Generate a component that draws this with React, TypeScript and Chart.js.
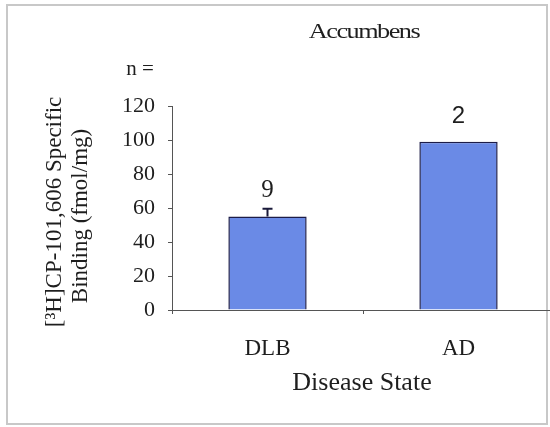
import React, { useEffect, useRef } from "react";
import { Chart, registerables } from "chart.js";

Chart.register(...registerables);

const categories = ["DLB", "AD"];
const meanBinding = [55, 99];
const semBinding = [4.5, 0];
const nLabels = ["9", "2"];
const yTicks = [0, 20, 40, 60, 80, 100, 120];
const chartTitle = "Accumbens";
const yTitleLines = ["[\u00B3H]CP-101,606 Specific", "Binding (fmol/mg)"];
const xTitle = "Disease State";

const SERIF = "'Liberation Serif', 'Times New Roman', serif";
const SANS = "'Liberation Sans', Arial, sans-serif";
const TEXT = "#1e1e1e";

const decorPlugin = {
  id: "decor",
  beforeDraw(chart: any) {
    const ctx = chart.ctx;
    ctx.save();
    ctx.fillStyle = "#ffffff";
    ctx.fillRect(0, 0, chart.width, chart.height);
    ctx.strokeStyle = "#c8c8c8";
    ctx.lineWidth = 2;
    ctx.strokeRect(7, 5, 540, 419);
    ctx.restore();
  },
  afterDraw(chart: any) {
    const ctx = chart.ctx;
    const y = chart.scales.y;
    const meta = chart.getDatasetMeta(0);
    ctx.save();
    ctx.fillStyle = TEXT;
    ctx.textAlign = "center";
    ctx.textBaseline = "middle";
    // title
    ctx.save();
    ctx.translate(364, 32);
    ctx.scale(1.25, 1);
    ctx.font = `21px ${SERIF}`;
    (ctx as any).letterSpacing = "-1.2px";
    ctx.fillText(chartTitle, 0, 0);
    ctx.restore();
    // n =
    ctx.font = `21px ${SERIF}`;
    ctx.fillText("n =", 140, 69);
    // error bars
    ctx.strokeStyle = "#1a1a3a";
    ctx.lineWidth = 2;
    meta.data.forEach((bar: any, i: number) => {
      const e = semBinding[i];
      if (!e) return;
      const top = y.getPixelForValue(meanBinding[i] + e);
      const base = y.getPixelForValue(meanBinding[i]);
      ctx.beginPath();
      ctx.moveTo(bar.x, base);
      ctx.lineTo(bar.x, top);
      ctx.moveTo(bar.x - 5, top);
      ctx.lineTo(bar.x + 5, top);
      ctx.stroke();
    });
    // n labels
    meta.data.forEach((bar: any, i: number) => {
      const top = y.getPixelForValue(meanBinding[i] + semBinding[i]);
      ctx.font = i === 0 ? `25px ${SERIF}` : `24px ${SANS}`;
      ctx.fillText(nLabels[i], bar.x, top - 18 + (i === 1 ? -7 : 0));
    });
    // x title
    ctx.font = `26px ${SERIF}`;
    ctx.fillText(xTitle, 362, 383);
    // y title
    ctx.save();
    ctx.translate(55, 212);
    ctx.rotate(-Math.PI / 2);
    ctx.font = `23px ${SERIF}`;
    ctx.fillText(yTitleLines[0], 0, 0);
    ctx.fillText(yTitleLines[1], -4, 26);
    ctx.restore();
    ctx.restore();
  },
};

export default function App() {
  const ref = useRef<HTMLCanvasElement | null>(null);
  useEffect(() => {
    if (!ref.current) return;
    const chart = new Chart(ref.current, {
      type: "bar",
      data: {
        labels: categories,
        datasets: [
          {
            data: meanBinding,
            backgroundColor: "#6a8ae6",
            borderColor: "#1c1c48",
            borderWidth: 1.5,
            barPercentage: 0.41,
            categoryPercentage: 1,
          },
        ],
      },
      options: {
        responsive: false,
        animation: false,
        devicePixelRatio: 1,
        layout: { padding: { top: 106, left: 0, right: 0, bottom: 0 } },
        plugins: {
          legend: { display: false },
          title: { display: false },
          tooltip: { enabled: false },
        },
        scales: {
          x: {
            afterFit: (s: any) => {
              s.height = 117;
            },
            border: { color: "#555", width: 1 },
            grid: {
              drawOnChartArea: false,
              drawTicks: true,
              tickLength: 4,
              offset: true,
              color: "#555",
            },
            ticks: {
              color: TEXT,
              font: { family: SERIF, size: 23 },
              padding: 21,
            },
          },
          y: {
            min: 0,
            max: 120,
            afterFit: (s: any) => {
              s.width = 172;
            },
            afterBuildTicks: (s: any) => {
              s.ticks = yTicks.map((v) => ({ value: v }));
            },
            border: { color: "#555", width: 1 },
            grid: {
              drawOnChartArea: false,
              drawTicks: true,
              tickLength: 4,
              color: "#555",
            },
            ticks: {
              color: TEXT,
              font: { family: SERIF, size: 22 },
              padding: 13,
            },
          },
        },
      },
      plugins: [decorPlugin],
    });
    return () => chart.destroy();
  }, []);
  return (
    <div
      style={{
        position: "fixed",
        left: 0,
        top: 0,
        width: 550,
        height: 427,
        overflow: "hidden",
        background: "#fff",
      }}
    >
      <canvas ref={ref} width={554} height={427} style={{ display: "block" }} />
    </div>
  );
}
